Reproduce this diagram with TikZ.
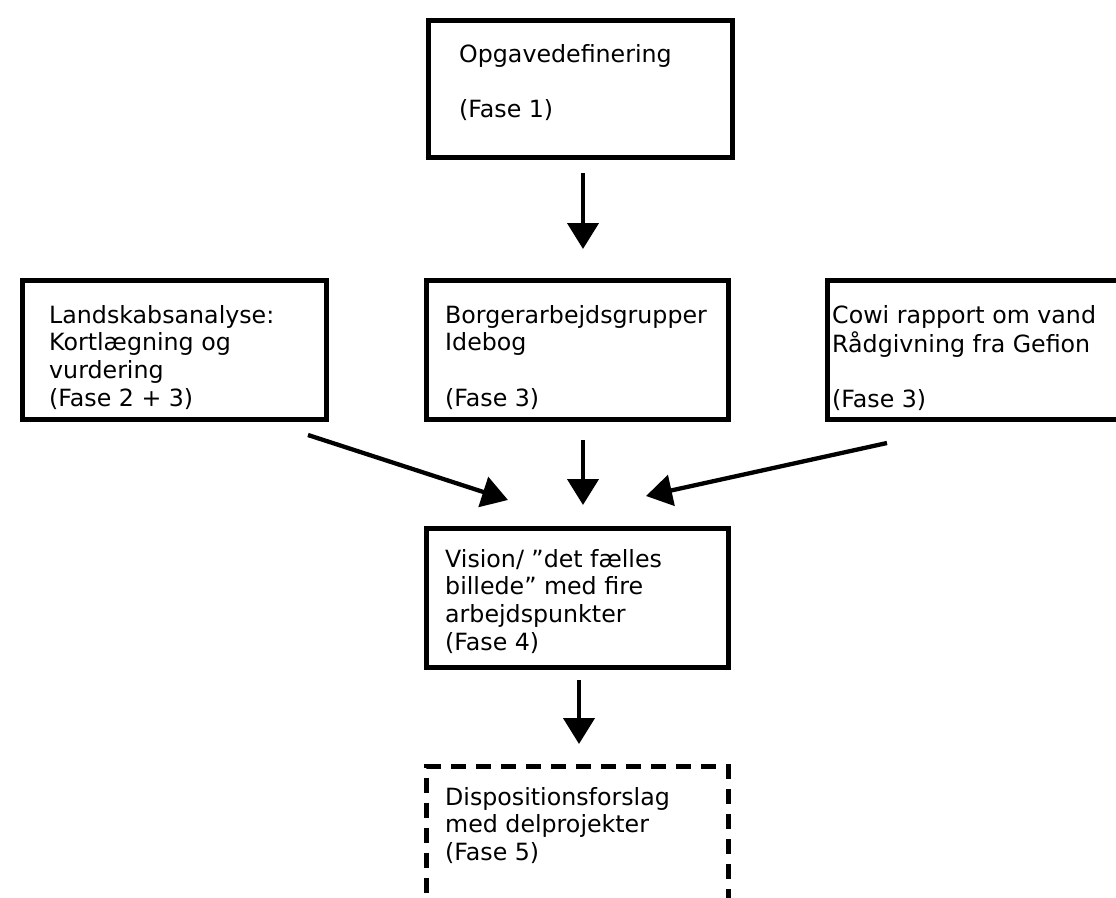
\documentclass[tikz,border=0pt]{standalone}
\usepackage{fontspec}
\setmainfont{DejaVu Sans}
\usetikzlibrary{arrows.meta}
\newcommand{\boxlines}[1]{\begin{tabular}[t]{@{}l@{}}#1\end{tabular}}
\begin{document}
\begin{tikzpicture}[x=1bp,y=-1bp,
  box/.style={draw=black, line width=4.5bp, inner sep=0pt, anchor=north west},
  dbox/.style={box, line width=5bp, dash pattern=on 15bp off 10bp},
  txt/.style={inner sep=0pt, anchor=base west, font=\fontsize{23.8}{28}\selectfont},
  arr/.style={line width=4.3bp, -{Triangle[width=31bp,length=26bp]}}]
\useasboundingbox (0,0) rectangle (1116,898);
\clip (0,0) rectangle (1116,898);

% boxes
\node[box, minimum width=304bp, minimum height=137bp] (fase1) at (426,18) {};
\node[box, minimum width=304bp, minimum height=139bp] (land) at (20,278) {};
\node[box, minimum width=302bp, minimum height=139bp] (borger) at (424,278) {};
\node[box, minimum width=320bp, minimum height=139bp] (cowi) at (825,278) {};
\node[box, minimum width=302bp, minimum height=139bp] (vision) at (424,526) {};
\node[dbox, minimum width=302bp, minimum height=160bp] (disp) at (424,764) {};

% texts
\node[txt] (t1) at (459,62) {\boxlines{Opgavedefinering\\ \\(Fase 1)}};
\node[txt] (t2) at (49,323) {\boxlines{Landskabsanalyse:\\Kortlægning og\\vurdering\\(Fase 2 + 3)}};
\node[txt] (t3) at (445,323) {\boxlines{Borgerarbejdsgrupper\\Idebog\\ \\(Fase 3)}};
\node[txt] (t4) at (832,323) {\boxlines{Cowi rapport om vand\\Rådgivning fra Gefion\\ \\(Fase 3)}};
\node[txt] (t5) at (445,567) {\boxlines{Vision/ ”det fælles\\billede” med fire\\arbejdspunkter\\(Fase 4)}};
\node[txt] (t6) at (445,805) {\boxlines{Dispositionsforslag\\med delprojekter\\(Fase 5)}};

% connector ends
\coordinate (a1s) at (583,173); \coordinate (a1e) at (583,249);
\coordinate (a2s) at (308,435); \coordinate (a2e) at (508,500);
\coordinate (a3s) at (583,440); \coordinate (a3e) at (583,505);
\coordinate (a4s) at (887,443); \coordinate (a4e) at (646,496);
\coordinate (a5s) at (579,680); \coordinate (a5e) at (579,744);

\draw[arr] (a1s) -- (a1e);
\draw[arr] (a2s) -- (a2e);
\draw[arr] (a3s) -- (a3e);
\draw[arr] (a4s) -- (a4e);
\draw[arr] (a5s) -- (a5e);
\end{tikzpicture}
\end{document}
